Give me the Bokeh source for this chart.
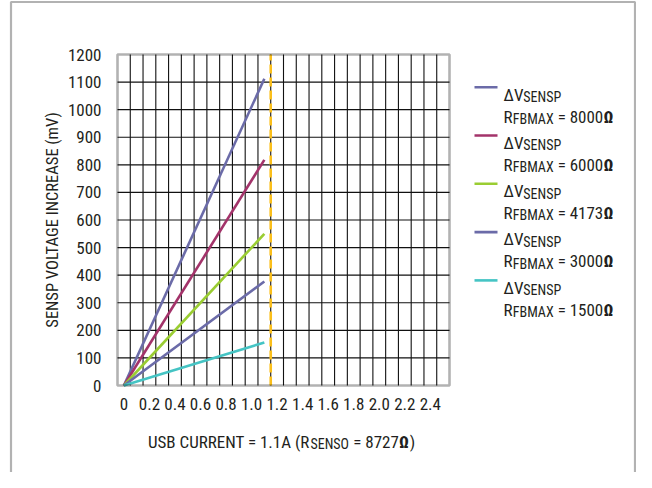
from bokeh.plotting import figure
from bokeh.models import FixedTicker, Label, BoxAnnotation, Range1d
from bokeh.embed import file_html
from bokeh.resources import INLINE

# ---------------- data ----------------
X_CURRENT = [0.0, 1.1]
V_8000 = [0, 1112]
V_6000 = [0, 818]
V_4173 = [0, 550]
V_3000 = [0, 377]
V_1500 = [0, 156]
SERIES_NAMES = ["8000", "6000", "4173", "3000", "1500"]
SERIES_VALUES = [V_8000, V_6000, V_4173, V_3000, V_1500]
SERIES_COLORS = ["#6b6ba8", "#a3336a", "#9acd32", "#6b6ba8", "#45c4c4"]
DASH_X = 1.15
X_TICKS = [0, 0.2, 0.4, 0.6, 0.8, 1.0, 1.2, 1.4, 1.6, 1.8, 2.0, 2.2, 2.4]
X_TICK_LABELS = ["0", "0.2", "0.4", "0.6", "0.8", "1.0", "1.2", "1.4", "1.6", "1.8", "2.0", "2.2", "2.4"]
Y_TICKS = [0, 100, 200, 300, 400, 500, 600, 700, 800, 900, 1000, 1100, 1200]
Y_LABEL = "SENSP VOLTAGE INCREASE (mV)"
R_SENSO = "8727"

# ---------------- layout ----------------
XMIN, XMAX = -0.05, 2.55
YMIN, YMAX = 0, 1200
W, H = 636, 472
FL, FT, FW, FH = 117, 54, 332, 331      # chart box in canvas px
PXX = FW / (XMAX - XMIN)
PXY = FH / (YMAX - YMIN)

FONT = "Roboto Condensed"
TXT = "#231f20"
MAIN = 17
SUB = 14


def px_x(cx):
    return (cx - FL) / PXX + XMIN


def px_y(cy):
    return (FT + FH - cy) / PXY + YMIN


p = figure(width=W, height=H, output_backend="svg", toolbar_location=None,
           x_range=Range1d(px_x(0), px_x(W)), y_range=Range1d(px_y(H), px_y(0)),
           min_border=0)
p.background_fill_color = "white"
p.border_fill_color = "white"
p.outline_line_color = None
p.grid.visible = False

# axes drawn inside the canvas at the chart box edges
p.xaxis.fixed_location = YMIN
p.yaxis.fixed_location = XMIN
p.xaxis.bounds = (XMIN, XMAX)
p.yaxis.bounds = (YMIN, YMAX)
p.xaxis.ticker = FixedTicker(ticks=X_TICKS)
p.xaxis.major_label_overrides = {t: l for t, l in zip(X_TICKS, X_TICK_LABELS)}
p.yaxis.ticker = FixedTicker(ticks=Y_TICKS)
for ax in (p.xaxis, p.yaxis):
    ax.axis_line_color = None
    ax.major_tick_in = 0
    ax.major_tick_out = 0
    ax.minor_tick_line_color = None
    ax.major_label_text_font = FONT
    ax.major_label_text_font_size = "17px"
    ax.major_label_text_color = TXT
p.xaxis.major_label_standoff = 12
p.yaxis.major_label_standoff = 16
p.yaxis.axis_label = Y_LABEL
p.yaxis.axis_label_text_font = FONT
p.yaxis.axis_label_text_font_size = "16.5px"
p.yaxis.axis_label_text_font_style = "normal"
p.yaxis.axis_label_text_color = TXT
p.yaxis.axis_label_standoff = 3

# grid lines
gx = [round(XMIN + 0.1 * k, 2) for k in range(1, 26)]
gy = Y_TICKS[1:-1]
p.segment(x0=gx, y0=[YMIN] * len(gx), x1=gx, y1=[YMAX] * len(gx),
          line_color="#111111", line_width=1.1)
p.segment(x0=[XMIN] * len(gy), y0=gy, x1=[XMAX] * len(gy), y1=gy,
          line_color="#111111", line_width=1.1)

# data lines
for vals, col in zip(SERIES_VALUES, SERIES_COLORS):
    p.line(X_CURRENT, vals, line_color=col, line_width=2.6)

p.line([DASH_X, DASH_X], [YMIN, YMAX], line_color="#fbbf1a", line_width=2.6, line_dash="9 4")

# chart border
p.add_layout(BoxAnnotation(left=XMIN, right=XMAX, bottom=YMIN, top=YMAX,
                           fill_alpha=0, line_color="black", line_width=2.6))

# ---------------- text helpers ----------------
AW = {"0": .562, "1": .562, "2": .562, "3": .562, "4": .562, "5": .562, "6": .562,
      "7": .562, "8": .562, "9": .562, " ": .248, "=": .549, ".": .263, "(": .342,
      ")": .348, "Δ": .68, "Ω": .67, "A": .652, "B": .622, "C": .652, "E": .568,
      "F": .553, "M": .872, "N": .713, "O": .688, "P": .631, "R": .616, "S": .593,
      "T": .597, "U": .648, "V": .636, "X": .627}


def tw(s, size):
    return sum(AW.get(c, .6) for c in s) * 0.884 * size


def rich(pieces, cx, cy):
    """pieces: (text, size, bold, dy_px) placed left to right from canvas px (cx, cy)."""
    x = cx
    for text, size, bold, dy in pieces:
        lead = len(text) - len(text.lstrip(" "))
        x += tw(" " * lead, size)
        body = text.strip(" ")
        p.add_layout(Label(x=px_x(x), y=px_y(cy + dy), text=body,
                           text_font=FONT, text_font_size=f"{size}px",
                           text_font_style="bold" if bold else "normal",
                           text_color=TXT, text_align="left",
                           text_baseline="alphabetic"))
        x += tw(body, size) * (1.06 if bold else 1.0)
        x += tw(" " * (len(text) - lead - len(body)), size)


# x axis title
rich([("USB CURRENT = 1.1A (R", MAIN, False, 0), ("SENSO", SUB, False, 2.3),
      (" = " + R_SENSO, MAIN, False, 0), ("Ω", MAIN, True, 0), (")", MAIN, False, 0)],
     147.5, 441)

# legend
for i, (name, col) in enumerate(zip(SERIES_NAMES, SERIES_COLORS)):
    yc = 86.7 + i * 48.3
    p.add_layout(BoxAnnotation(left=px_x(474), right=px_x(497),
                               bottom=px_y(yc + 1.3), top=px_y(yc - 1.3),
                               fill_color=col, fill_alpha=1, line_alpha=0))
    rich([("ΔV", MAIN, False, 0), ("SENSP", SUB, False, 2.5)], 503, yc + 7.3)
    rich([("R", MAIN, False, 0), ("FBMAX", SUB, False, 2.3), (" = " + name, MAIN, False, 0),
          ("Ω", MAIN, True, 0)], 503, yc + 29.3)

# outer frame
p.add_layout(BoxAnnotation(left=px_x(10.5), right=px_x(634.5),
                           top=px_y(1.5), bottom=px_y(600),
                           fill_alpha=0, line_color="black", line_width=2.2))

open("out.html", "w").write(file_html(p, INLINE))
